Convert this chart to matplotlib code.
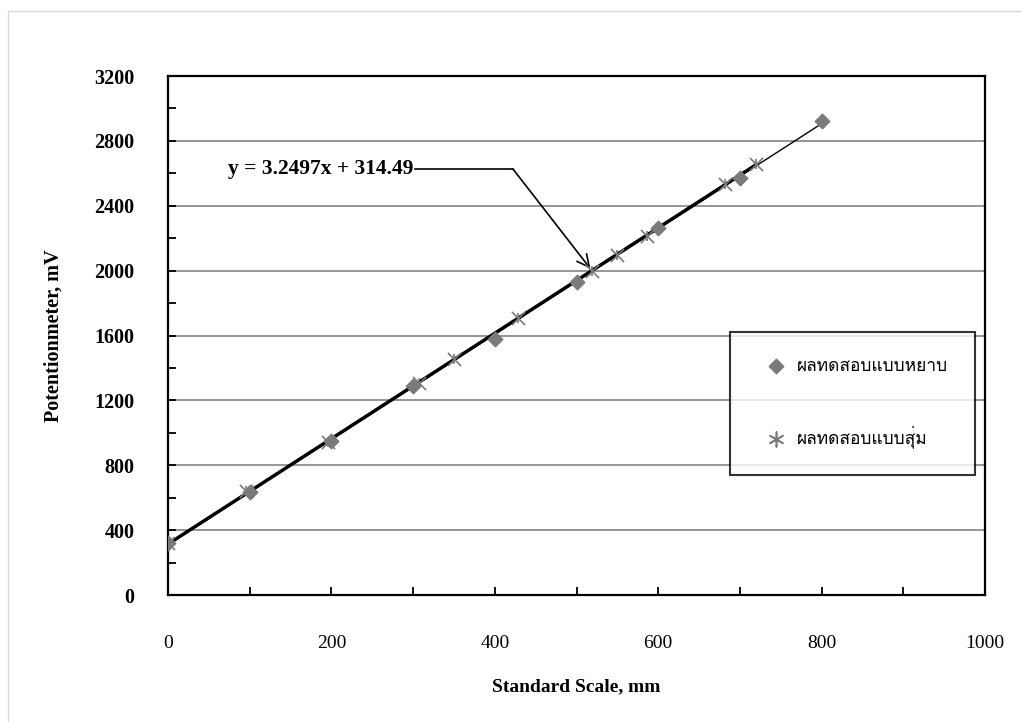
import matplotlib
matplotlib.use("Agg")
import matplotlib.pyplot as plt
import numpy as np
from matplotlib import font_manager
from matplotlib.ft2font import FT2Font
from matplotlib.patches import Rectangle

# coarse test (diamonds) and random test (stars)
coarse_x = [0, 100, 200, 300, 400, 500, 600, 700, 800]
coarse_y = [320, 636, 950, 1290, 1580, 1930, 2266, 2570, 2923]
random_x = [0, 96, 196, 307, 350, 428, 519, 549, 586, 682, 720]
random_y = [318, 640, 943, 1305, 1457, 1710, 2000, 2098, 2215, 2534, 2657]

slope = 3.2497
intercept = 314.49
eq_label = "y = 3.2497x + 314.49"
legend_labels = ["ผลทดสอบแบบหยาบ", "ผลทดสอบแบบสุ่ม"]

x_ticks = [0, 200, 400, 600, 800, 1000]
y_ticks = [0, 400, 800, 1200, 1600, 2000, 2400, 2800, 3200]

_GREY = "#7a7a7a"
_GRID = "#8c8c8c"


def _thai_font():
    for f in font_manager.fontManager.ttflist:
        try:
            if ord("ผ") in FT2Font(f.fname).get_charmap():
                return f.name
        except Exception:
            continue
    return "DejaVu Sans"


thai = _thai_font()
plt.rcParams["font.family"] = ["Liberation Serif", thai, "DejaVu Sans"]

fig = plt.figure(figsize=(10.22, 7.22), dpi=100)
ax = fig.add_axes([0.1644, 0.1759, 0.7994, 0.7188])

# light frame around the whole picture
fig.patches.append(Rectangle((8 / 1022, -0.05), 1.1, (711 / 722) + 0.05, transform=fig.transFigure,
                             fill=False, edgecolor="#d9d9d9", linewidth=1))

for yv in y_ticks[1:-1]:
    ax.axhline(yv, color=_GRID, linewidth=1.3, zorder=1)

# thin trend for coarse test, thick trend for random test
cx = np.array([min(coarse_x), max(coarse_x)])
c_fit = np.polyfit(coarse_x, coarse_y, 1)
ax.plot(cx, np.polyval(c_fit, cx), color="black", linewidth=1, zorder=2)
rx = np.array([min(random_x), max(random_x)])
ax.plot(rx, slope * rx + intercept, color="black", linewidth=2.4, zorder=3)

ax.scatter(coarse_x, coarse_y, marker="D", s=55, color=_GREY, zorder=4, label=legend_labels[0])
ax.scatter(random_x, random_y, marker="x", s=90, color=_GREY, linewidths=1.2, zorder=5)
ax.scatter(random_x, random_y, marker="|", s=60, color=_GREY, linewidths=1.2, zorder=5)
# legend proxy for the star marker
star = ax.scatter([], [], marker=(6, 2, 0), s=110, color=_GREY, linewidths=1.2, label=legend_labels[1])

ax.set_xlim(0, 1000)
ax.set_ylim(0, 3200)
ax.set_xticks(x_ticks)
ax.set_xticks(range(100, 1000, 200), minor=True)
ax.set_yticks(y_ticks)
ax.set_yticks(range(200, 3200, 400), minor=True)
ax.tick_params(axis="both", which="both", direction="in", length=6, width=1.3)
ax.tick_params(axis="x", pad=29, labelsize=14)
ax.tick_params(axis="y", pad=24, labelsize=14.5)
for lbl in ax.get_yticklabels():
    lbl.set_fontweight("bold")
for sp in ax.spines.values():
    sp.set_linewidth(1.6)

ax.set_xlabel("Standard Scale, mm", fontsize=14, fontweight="bold", labelpad=19)
ax.set_ylabel("Potentionmeter, mV", fontsize=14.5, fontweight="bold", labelpad=22)

# equation callout
elbow = (422, 2628)
tip = (517, 2012)
ax.text(300, elbow[1], eq_label, ha="right", va="center", fontsize=15.5, fontweight="bold")
ax.plot([302, elbow[0]], [elbow[1], elbow[1]], color="black", linewidth=1.2)
ax.annotate("", xy=tip, xytext=elbow,
            arrowprops=dict(arrowstyle="->", color="black", lw=1.2, mutation_scale=22,
                            shrinkA=0, shrinkB=0))

leg = ax.legend(loc="upper left", bbox_to_anchor=(0.688, 0.507), frameon=True, fancybox=False,
                fontsize=12.5, labelspacing=2.9, borderpad=1.55, handletextpad=0.1, handlelength=2.2,
                borderaxespad=0)
leg.get_frame().set_edgecolor("black")
leg.get_frame().set_linewidth(1.5)
fig.canvas.draw()
# stretch the legend frame to the reference width
frame = leg.get_frame()
frame.set_width(frame.get_width() + 7)

fig.savefig("out.png", dpi=100)
